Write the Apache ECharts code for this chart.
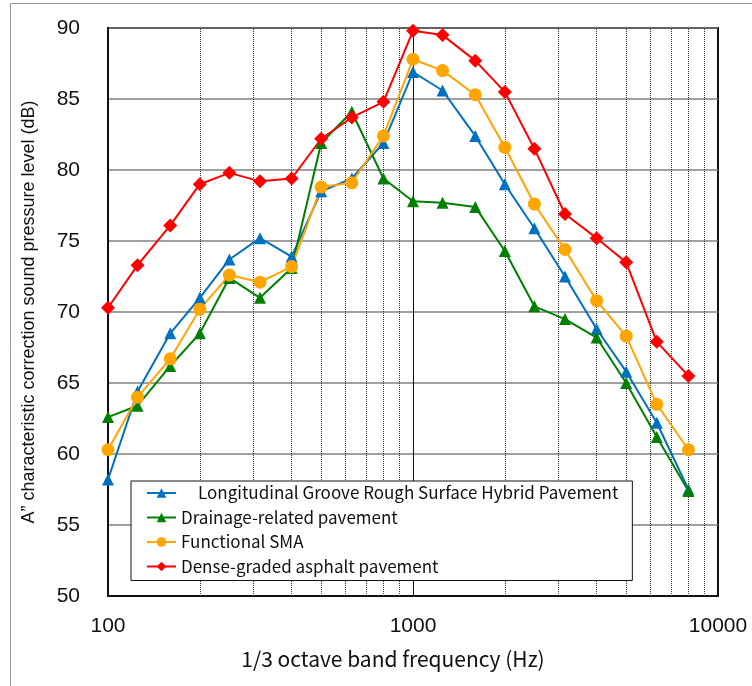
<!DOCTYPE html>
<html>
<head>
<meta charset="utf-8">
<script src="https://cdn.jsdelivr.net/npm/echarts@6/dist/echarts.min.js"></script>
<style>
  html, body { margin: 0; padding: 0; background: #fff; }
  #chart { width: 752px; height: 686px; }
</style>
</head>
<body>
<div id="chart"></div>
<script>
// 1/3 octave band centre frequencies (Hz)
var freqs = [100, 125, 160, 200, 250, 315, 400, 500, 630, 800, 1000, 1250, 1600, 2000, 2500, 3150, 4000, 5000, 6300, 8000];

var hybrid   = [58.2, 64.4, 68.5, 71.0, 73.7, 75.2, 73.9, 78.5, 79.4, 81.9, 86.9, 85.6, 82.4, 79.0, 75.9, 72.5, 68.8, 65.8, 62.2, 57.5];
var drainage = [62.6, 63.4, 66.2, 68.5, 72.4, 71.0, 73.1, 81.9, 84.1, 79.4, 77.8, 77.7, 77.4, 74.3, 70.4, 69.5, 68.2, 65.0, 61.2, 57.4];
var sma      = [60.3, 64.0, 66.7, 70.2, 72.6, 72.1, 73.2, 78.8, 79.1, 82.4, 87.8, 87.0, 85.3, 81.6, 77.6, 74.4, 70.8, 68.3, 63.5, 60.3];
var dense    = [70.3, 73.3, 76.1, 79.0, 79.8, 79.2, 79.4, 82.2, 83.7, 84.8, 89.8, 89.5, 87.7, 85.5, 81.5, 76.9, 75.2, 73.5, 67.9, 65.5];

var names = ['\u3000Longitudinal Groove Rough Surface Hybrid Pavement', 'Drainage-related pavement', 'Functional SMA', 'Dense-graded asphalt pavement'];

// minor log grid lines
var minorLines = [200, 300, 400, 500, 600, 700, 800, 900, 2000, 3000, 4000, 5000, 6000, 7000, 8000, 9000];

function pairs(vals) {
    var out = [];
    for (var i = 0; i < freqs.length; i++) {
        out.push([freqs[i], vals[i]]);
    }
    return out;
}

function makeSeries(name, vals, color, symbol, size) {
    return {
        name: name,
        type: 'line',
        data: pairs(vals),
        symbol: symbol,
        symbolSize: size,
        lineStyle: { color: color, width: 2 },
        itemStyle: { color: color },
        z: 3
    };
}

var chart = echarts.init(document.getElementById('chart'));
var option = {
    animation: false,
    backgroundColor: '#fff',
    grid: {
        left: 108, right: 34, top: 28, bottom: 90,
        show: true, borderColor: '#111', borderWidth: 2, backgroundColor: 'transparent'
    },
    graphic: [
        {
            type: 'rect', z: 0,
            shape: { x: 10.5, y: 3.5, width: 800, height: 760 },
            style: { fill: 'none', stroke: '#999', lineWidth: 1 }
        }
    ],
    legend: {
        data: names,
        orient: 'vertical',
        left: 131, top: 481,
        padding: [2, 14, 4, 15],
        backgroundColor: '#fff',
        borderColor: '#111',
        borderWidth: 1,
        borderRadius: 0,
        itemWidth: 29, itemHeight: 12,
        itemGap: 4.5,
        z: 10,
        textStyle: { fontFamily: 'Noto Sans CJK JP', fontSize: 17, color: '#111', lineHeight: 20 }
    },
    xAxis: {
        type: 'log', logBase: 10, min: 100, max: 10000,
        name: '1/3 octave band frequency (Hz)',
        nameLocation: 'middle', nameGap: 53,
        nameTextStyle: { fontFamily: 'Noto Sans CJK JP', fontSize: 21, color: '#111', padding: [0, 40, 0, 0] },
        axisLine: { lineStyle: { color: '#111', width: 2 } },
        axisTick: { show: false },
        axisLabel: {
            fontFamily: 'Liberation Sans', fontSize: 21, color: '#111', margin: 20,
            formatter: function (v) { return String(Math.round(v)); }
        },
        splitLine: { show: true, lineStyle: { color: '#111', width: 1 } }
    },
    yAxis: {
        type: 'value', min: 50, max: 90, interval: 5,
        name: 'A\u201d characteristic correction sound pressure level (dB)',
        nameLocation: 'middle', nameGap: 70,
        nameTextStyle: { fontFamily: 'Liberation Sans', fontSize: 18, color: '#111' },
        axisLine: { show: true, lineStyle: { color: '#111', width: 2 } },
        axisTick: { show: false },
        axisLabel: { fontFamily: 'Liberation Sans', fontSize: 21, color: '#111', margin: 28 },
        splitLine: { show: true, lineStyle: { color: '#808080', width: 1.5 } }
    },
    series: [
        {
            name: 'minor-grid',
            type: 'line',
            data: [],
            silent: true,
            z: 1,
            markLine: {
                silent: true,
                z: 1,
                symbol: 'none',
                label: { show: false },
                lineStyle: { color: '#333', width: 1, type: 'dotted' },
                data: minorLines.map(function (v) { return { xAxis: v }; })
            }
        },
        makeSeries(names[0], hybrid, '#0070C0', 'triangle', 12),
        makeSeries(names[1], drainage, '#008000', 'triangle', 12),
        makeSeries(names[2], sma, '#FFA500', 'circle', 13),
        makeSeries(names[3], dense, '#FF0000', 'diamond', 14)
    ]
};
chart.setOption(option);
</script>
</body>
</html>
